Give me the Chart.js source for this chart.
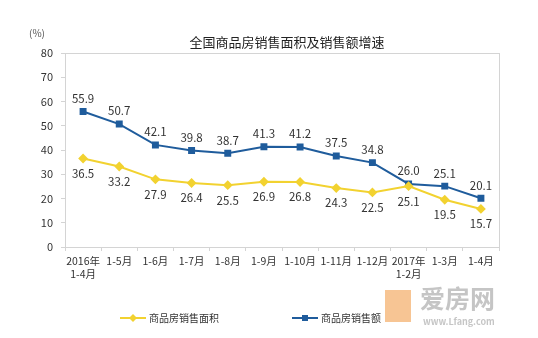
<!DOCTYPE html>
<html>
<head>
<meta charset="utf-8">
<script src="https://cdn.jsdelivr.net/npm/chart.js@4/dist/chart.umd.min.js"></script>
<style>
  html, body { margin: 0; padding: 0; background: #fff; }
  #wrap { width: 538px; height: 338px; position: relative; }
</style>
</head>
<body>
<div id="wrap"><canvas id="chart" width="538" height="338"></canvas></div>
<script>
const categories = [
  ["2016年", "1-4月"], "1-5月", "1-6月", "1-7月", "1-8月", "1-9月",
  "1-10月", "1-11月", "1-12月", ["2017年", "1-2月"], "1-3月", "1-4月"
];
const areaGrowth = [36.5, 33.2, 27.9, 26.4, 25.5, 26.9, 26.8, 24.3, 22.5, 25.1, 19.5, 15.7];
const salesGrowth = [55.9, 50.7, 42.1, 39.8, 38.7, 41.3, 41.2, 37.5, 34.8, 26.0, 25.1, 20.1];
const yTicks = [0, 10, 20, 30, 40, 50, 60, 70, 80];

const FONT = "'Noto Sans CJK SC', 'Noto Sans', sans-serif";
const YELLOW = "#f2d230";
const BLUE = "#1f5c9c";

const decorPlugin = {
  id: "decor",
  beforeDatasetsDraw(chart) {
    const { ctx, chartArea: a } = chart;
    ctx.save();
    ctx.strokeStyle = "#d4d4d4";
    ctx.lineWidth = 1;
    ctx.strokeRect(a.left + 0.5, a.top + 0.5, a.right - a.left, a.bottom - a.top);
    ctx.restore();
  },
  afterDatasetsDraw(chart) {
    const { ctx } = chart;
    ctx.save();
    ctx.font = "11.5px " + FONT;
    ctx.fillStyle = "#333";
    ctx.textAlign = "center";
    ctx.textBaseline = "middle";
    chart.data.datasets.forEach((ds, i) => {
      const meta = chart.getDatasetMeta(i);
      meta.data.forEach((pt, j) => {
        const dy = i === 0 ? 15 : -13;
        ctx.fillText(ds.data[j].toFixed(1), pt.x, pt.y + dy);
      });
    });
    // title and unit
    ctx.font = "13px " + FONT;
    ctx.fillStyle = "#222";
    ctx.fillText("全国商品房销售面积及销售额增速", 287, 42);
    ctx.font = "10px " + FONT;
    ctx.fillStyle = "#555";
    ctx.fillText("(%)", 37, 33);
    // legend
    const items = [
      { x: 120, label: "商品房销售面积", color: YELLOW, shape: "diamond" },
      { x: 292, label: "商品房销售额", color: BLUE, shape: "square" },
    ];
    items.forEach((it) => {
      const y = 318;
      ctx.strokeStyle = it.color;
      ctx.lineWidth = 2;
      ctx.beginPath();
      ctx.moveTo(it.x, y);
      ctx.lineTo(it.x + 26, y);
      ctx.stroke();
      ctx.fillStyle = it.color;
      if (it.shape === "square") {
        ctx.fillRect(it.x + 10, y - 3, 6, 6);
      } else {
        ctx.beginPath();
        ctx.moveTo(it.x + 13, y - 4);
        ctx.lineTo(it.x + 17, y);
        ctx.lineTo(it.x + 13, y + 4);
        ctx.lineTo(it.x + 9, y);
        ctx.closePath();
        ctx.fill();
      }
      ctx.font = "10px " + FONT;
      ctx.fillStyle = "#333";
      ctx.textAlign = "left";
      ctx.fillText(it.label, it.x + 29, y);
    });
    // watermark
    ctx.fillStyle = "rgba(240,150,60,0.55)";
    ctx.fillRect(385, 290, 26, 32);
    ctx.font = "bold 25px " + FONT;
    ctx.fillStyle = "rgba(150,150,150,0.55)";
    ctx.textAlign = "left";
    ctx.fillText("爱房网", 420, 298);
    ctx.font = "bold 9px " + FONT;
    ctx.fillText("www.Lfang.com", 423, 322);
    ctx.restore();
  },
};

new Chart(document.getElementById("chart"), {
  type: "line",
  data: {
    labels: categories,
    datasets: [
      {
        label: "商品房销售面积",
        data: areaGrowth,
        borderColor: YELLOW,
        backgroundColor: YELLOW,
        borderWidth: 2,
        pointStyle: "rectRot",
        pointRadius: 3.5,
        tension: 0,
      },
      {
        label: "商品房销售额",
        data: salesGrowth,
        borderColor: BLUE,
        backgroundColor: BLUE,
        borderWidth: 2,
        pointStyle: "rect",
        pointRadius: 3.5,
        tension: 0,
      },
    ],
  },
  options: {
    responsive: false,
    animation: false,
    layout: { padding: { top: 53, right: 39, bottom: 41, left: 0 } },
    plugins: { legend: { display: false }, tooltip: { enabled: false } },
    scales: {
      x: {
        offset: true,
        grid: { display: true, drawOnChartArea: false, tickLength: 4, color: "#d4d4d4", offset: true },
        border: { color: "#d4d4d4" },
        ticks: { color: "#333", font: { size: 10.5, family: FONT }, maxRotation: 0, autoSkip: false, padding: 4 },
        afterFit: (scale) => { scale.height = 50; },
      },
      y: {
        min: 0,
        max: 80,
        afterBuildTicks: (scale) => { scale.ticks = yTicks.map((v) => ({ value: v })); },
        grid: { display: true, drawOnChartArea: false, tickLength: 4, color: "#d4d4d4" },
        border: { color: "#d4d4d4" },
        ticks: { color: "#333", font: { size: 11, family: FONT }, padding: 8 },
        afterFit: (scale) => { scale.width = 65; },
      },
    },
  },
  plugins: [decorPlugin],
});
</script>
</body>
</html>
